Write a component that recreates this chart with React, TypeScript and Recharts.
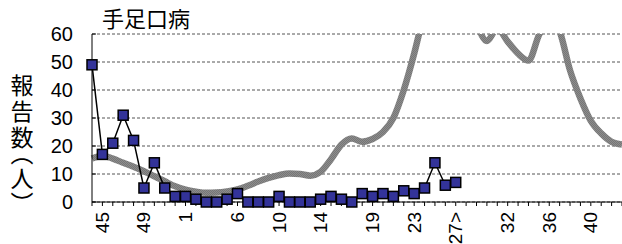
import React from "react"
import { CartesianGrid, Line, LineChart, XAxis, YAxis } from "recharts"

// 週（44週〜翌年43週）
const weeks = [
  "44", "45", "46", "47", "48", "49", "50", "51", "52",
  "1", "2", "3", "4", "5", "6", "7", "8", "9", "10",
  "11", "12", "13", "14", "15", "16", "17", "18", "19", "20",
  "21", "22", "23", "24", "25", "26", "27", "28", "29", "30",
  "31", "32", "33", "34", "35", "36", "37", "38", "39", "40",
  "41", "42", "43",
]

// 今シーズンの報告数（44週〜27週）
const reported = [
  49, 17, 21, 31, 22, 5, 14, 5, 2,
  2, 1, 0, 0, 1, 3, 0, 0, 0, 2,
  0, 0, 0, 1, 2, 1, 0, 3, 2, 3,
  2, 4, 3, 5, 14, 6, 7,
]

// 過去の平均的な推移（灰色の太線）
const baseline = [
  15.5, 16.5, 15.5, 14, 12.6, 11, 9.2, 7.4, 5.6,
  4.4, 3.7, 3.3, 3.4, 3.8, 4.5, 5.8, 7.3, 8.6, 9.6,
  10.2, 10, 9.4, 10.8, 15.3, 20.5, 22.7, 21.5, 22.5, 25,
  30, 40, 53, 68, 80, 88, 86, 76, 64, 57.5,
  62, 57.3, 53, 50.5, 59.5, 66, 61, 47, 37, 29,
  24.5, 21.5, 20.5,
]

const labelledWeeks = ["45", "49", "1", "6", "10", "14", "19", "23", "27", "32", "36", "40"]
const currentWeek = "27"
const yTicks = [0, 10, 20, 30, 40, 50, 60]

const rows = weeks.map((wk, i) => ({
  wk,
  reported: i < reported.length ? reported[i] : null,
  baseline: baseline[i],
}))

function WeekTick(props: { x?: number; y?: number; payload?: { value: string } }) {
  const { x = 0, y = 0, payload } = props
  if (!payload || !labelledWeeks.includes(payload.value)) return null
  const text = payload.value === currentWeek ? `${payload.value}>` : payload.value
  return (
    <text
      transform={`translate(${x},${y + 4}) rotate(-90)`}
      textAnchor="end"
      dominantBaseline="central"
      fontSize={19}
      fill="#000"
    >
      {text}
    </text>
  )
}

function SquareDot(props: { cx?: number; cy?: number; value?: number | null }) {
  const { cx, cy, value } = props
  if (cx === undefined || cy === undefined || value === null || value === undefined) return null
  return <rect x={cx - 5} y={cy - 5} width={10} height={10} fill="#333399" stroke="#000" strokeWidth={1.5} />
}

export default function App() {
  return (
    <div
      style={{
        position: "absolute",
        left: 0,
        top: 0,
        width: 622,
        height: 244,
        background: "#fff",
        fontFamily: "'Liberation Sans', Arial, sans-serif",
      }}
    >
      <LineChart width={622} height={244} data={rows} margin={{ top: 34, right: 0, bottom: 0, left: 0 }}>
        <defs>
          <pattern id="dither" width={2} height={2} patternUnits="userSpaceOnUse">
            <rect width={2} height={2} fill="#8c8c8c" />
            <rect width={1} height={1} fill="#767676" />
            <rect x={1} y={1} width={1} height={1} fill="#767676" />
          </pattern>
        </defs>
        <CartesianGrid vertical={false} stroke="#555" strokeDasharray="3 2" />
        <XAxis
          dataKey="wk"
          scale="point"
          padding={{ left: 0, right: 0 }}
          interval={0}
          height={42}
          tickSize={4}
          tickMargin={2}
          tickLine={{ stroke: "#000" }}
          axisLine={{ stroke: "#000" }}
          tick={<WeekTick />}
        />
        <YAxis
          domain={[0, 60]}
          ticks={yTicks}
          interval={0}
          width={92}
          tickSize={-4}
          tickMargin={23}
          tickLine={{ stroke: "#000" }}
          axisLine={{ stroke: "#000" }}
          tick={{ fill: "#000", fontSize: 20 }}
        />
        <YAxis yAxisId="g" domain={[0, 60]} allowDataOverflow hide />
        <Line
          yAxisId="g"
          type="monotone"
          dataKey="baseline"
          stroke="url(#dither)"
          strokeWidth={6.5}
          dot={false}
          activeDot={false}
          isAnimationActive={false}
        />
        <Line
          type="linear"
          dataKey="reported"
          stroke="#000"
          strokeWidth={1.5}
          dot={<SquareDot />}
          activeDot={false}
          connectNulls={false}
          isAnimationActive={false}
        />
      </LineChart>
      <div
        style={{
          position: "absolute",
          left: 102,
          top: 6,
          fontSize: 22,
          lineHeight: "22px",
          fontFamily: "'Noto Sans CJK JP', sans-serif",
          color: "#000",
        }}
      >
        手足口病
      </div>
      <div
        style={{
          position: "absolute",
          left: 10,
          top: 74,
          writingMode: "vertical-rl",
          fontSize: 23,
          lineHeight: "24px",
          letterSpacing: 3,
          fontFeatureSettings: '"vpal"',
          fontFamily: "'Noto Sans CJK JP', sans-serif",
          color: "#000",
        }}
      >
        報告数（人）
      </div>
    </div>
  )
}
